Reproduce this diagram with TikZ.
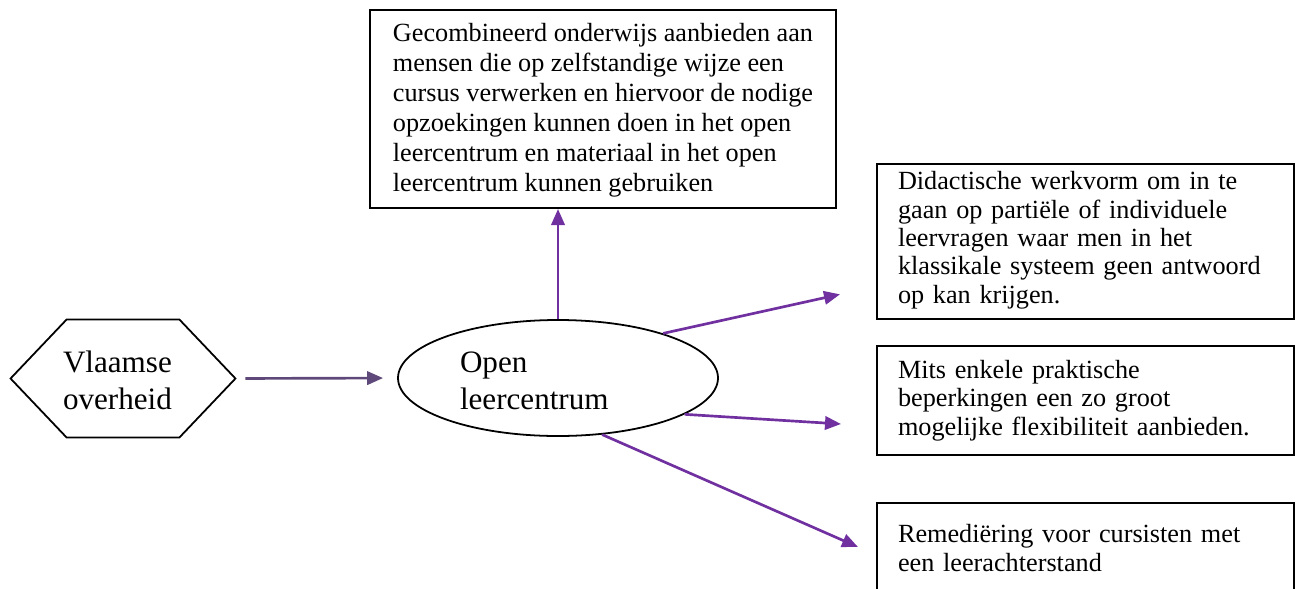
\documentclass[tikz,border=0pt]{standalone}
\usepackage{fontspec}
\setmainfont{Liberation Serif}
\usepackage{tikz}
\usetikzlibrary{arrows.meta,shapes.geometric,calc}

\definecolor{olcpurple}{HTML}{7030A0}
\definecolor{govpurple}{HTML}{5F497A}

\begin{document}
\begin{tikzpicture}[x=0.45pt,y=-0.45pt,
    box/.style={draw,line width=0.9pt,anchor=north west,align=left,
      font=\fontsize{11.8}{12.8}\selectfont},
    rbox/.style={box,inner xsep=9.45pt,text width=168.75pt},
    conn/.style={draw=olcpurple,line width=1.2pt,
      -{Triangle[length=7.2pt,width=6pt]}}]
    \useasboundingbox (0,0) rectangle (1298,588);

    % centre and source
    \node[ellipse,draw,line width=0.8pt,minimum width=144pt,minimum height=52.2pt,
      text width=88.2pt,align=left,font=\fontsize{14}{16.6}\selectfont]
      (olc) at (558,378) {\strut Open\\leercentrum};
    \node[minimum width=100.8pt,minimum height=52.65pt,text width=54pt,align=left,
      font=\fontsize{14}{16.6}\selectfont]
      (gov) at (123,378.5) {\strut Vlaamse\\overheid};
    \draw[line width=0.8pt] (gov.west) -- ([xshift=25.2pt]gov.north west)
      -- ([xshift=-25.2pt]gov.north east) -- (gov.east)
      -- ([xshift=-25.2pt]gov.south east) -- ([xshift=25.2pt]gov.south west) -- cycle;

    % text boxes
    \node[box,minimum width=209.7pt,minimum height=89.1pt,
      font=\fontsize{11.8}{13.5}\selectfont] (combi) at (369,9)
      {\strut Gecombineerd onderwijs aanbieden aan\\mensen die op zelfstandige wijze een\\
       cursus verwerken en hiervoor de nodige\\opzoekingen kunnen doen in het open\\
       leercentrum en materiaal in het open\\leercentrum kunnen gebruiken};
    \node[rbox,minimum height=69.75pt] (didac) at (876,163)
      {Didactische werkvorm om in te\\gaan op partiële of individuele\\
       leervragen waar men in het\\klassikale systeem geen antwoord\\op kan krijgen.\strut};
    \node[rbox,minimum height=49.05pt] (mits) at (876,345)
      {Mits enkele praktische\\beperkingen een zo groot\\mogelijke flexibiliteit aanbieden.};
    \node[rbox,minimum height=40.5pt] (remed) at (876,502)
      {Remediëring voor cursisten met\\een leerachterstand};

    % arrows
    \draw[conn,draw=govpurple,shorten <=4.5pt,shorten >=6.3pt] (gov.east) -- (olc.west);
    \draw[conn] (olc.north) -- (olc.north |- combi.south);
    \draw[conn] (olc.23) -- ([shift={(-36,-26)}]didac.south west);
    \draw[conn] (olc.-16) -- ([shift={(-35,23.5)}]mits.west);
    \draw[conn] (olc.-52) -- ([shift={(-18,45)}]remed.north west);
\end{tikzpicture}
\end{document}
